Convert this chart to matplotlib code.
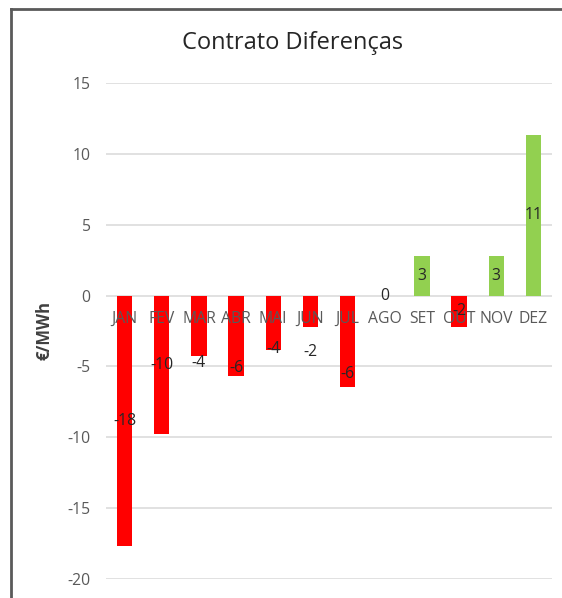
import matplotlib
matplotlib.use("Agg")
import matplotlib.pyplot as plt
from matplotlib.lines import Line2D

# Monthly contract-for-difference values (EUR/MWh)
months = ["JAN", "FEV", "MAR", "ABR", "MAI", "JUN", "JUL", "AGO", "SET", "OUT", "NOV", "DEZ"]
values = [-17.7, -9.76, -4.23, -5.67, -3.83, -2.24, -6.47, 0.0, 2.82, -2.24, 2.82, 11.34]
y_ticks = [15, 10, 5, 0, -5, -10, -15, -20]

# Where a value label sits (data units); None = middle of the bar
label_anchor = [None, None, -4.73, -5.08, -3.77, -3.96, -5.53, 0.0, None, None, None, None]

RED = "#FF0000"
GREEN = "#92D050"
GRID = "#D9D9D9"
TICK_GRAY = "#595959"
FONT = "Open Sans"
SMALL = 11.3

W, H = 562, 598
fig = plt.figure(figsize=(W / 100, H / 100), dpi=100)
fig.patch.set_facecolor("white")

# Plot area in pixel coordinates
px_left, px_right, px_top, px_bottom = 106, 552, 83, 579
ax = fig.add_axes([px_left / W, 1 - px_bottom / H,
                   (px_right - px_left) / W, (px_bottom - px_top) / H])

x = list(range(len(months)))
colors = [GREEN if v > 0 else RED for v in values]
ax.bar(x, values, width=0.41, color=colors, zorder=1)

ax.set_xlim(-0.5, len(months) - 0.5)
ax.set_ylim(min(y_ticks), max(y_ticks))

# Horizontal gridlines behind the bars
for t in y_ticks:
    ax.axhline(t, color=GRID, lw=1.1, zorder=0.5)

for s in ["top", "right", "left", "bottom"]:
    ax.spines[s].set_visible(False)

ax.set_yticks(y_ticks)
ax.set_yticklabels([str(t) for t in y_ticks], fontfamily=FONT, fontsize=SMALL, color=TICK_GRAY)
ax.tick_params(axis="y", length=0, pad=11)

# Month names sit just under the zero line, drawn over the bars
ax.set_xticks([])
for i, m in enumerate(months):
    ax.annotate(m, xy=(i, 0), xytext=(0, -17), textcoords="offset points",
                ha="center", va="center", fontfamily=FONT, fontsize=SMALL,
                color=TICK_GRAY, zorder=2.5, annotation_clip=False)

# Value labels
for i, v in enumerate(values):
    y = v / 2 if label_anchor[i] is None else label_anchor[i]
    ax.text(i, y, f"{v:.0f}".replace("-0", "0"), ha="center", va="center",
            fontfamily=FONT, fontsize=SMALL, color="#262626", zorder=3)

ax.set_ylabel("€/MWh", fontfamily=FONT, fontsize=12, fontweight="bold", color="#404040")
ax.yaxis.set_label_coords((54 - px_left) / (px_right - px_left), 0.5)

fig.text(293 / W, 1 - 43 / H, "Contrato Diferenças", ha="center", va="center",
         fontfamily=FONT, fontsize=17, color="#262626")

# Chart-area frame (top and left edges)
fig.add_artist(Line2D([11 / W, 1], [1 - 8.5 / H, 1 - 8.5 / H], color="#5A5A5A", lw=2.0,
                      transform=fig.transFigure))
fig.add_artist(Line2D([11 / W, 11 / W], [0, 1 - 8.5 / H], color="#5A5A5A", lw=2.0,
                      transform=fig.transFigure))

fig.savefig("out.png", dpi=100)
